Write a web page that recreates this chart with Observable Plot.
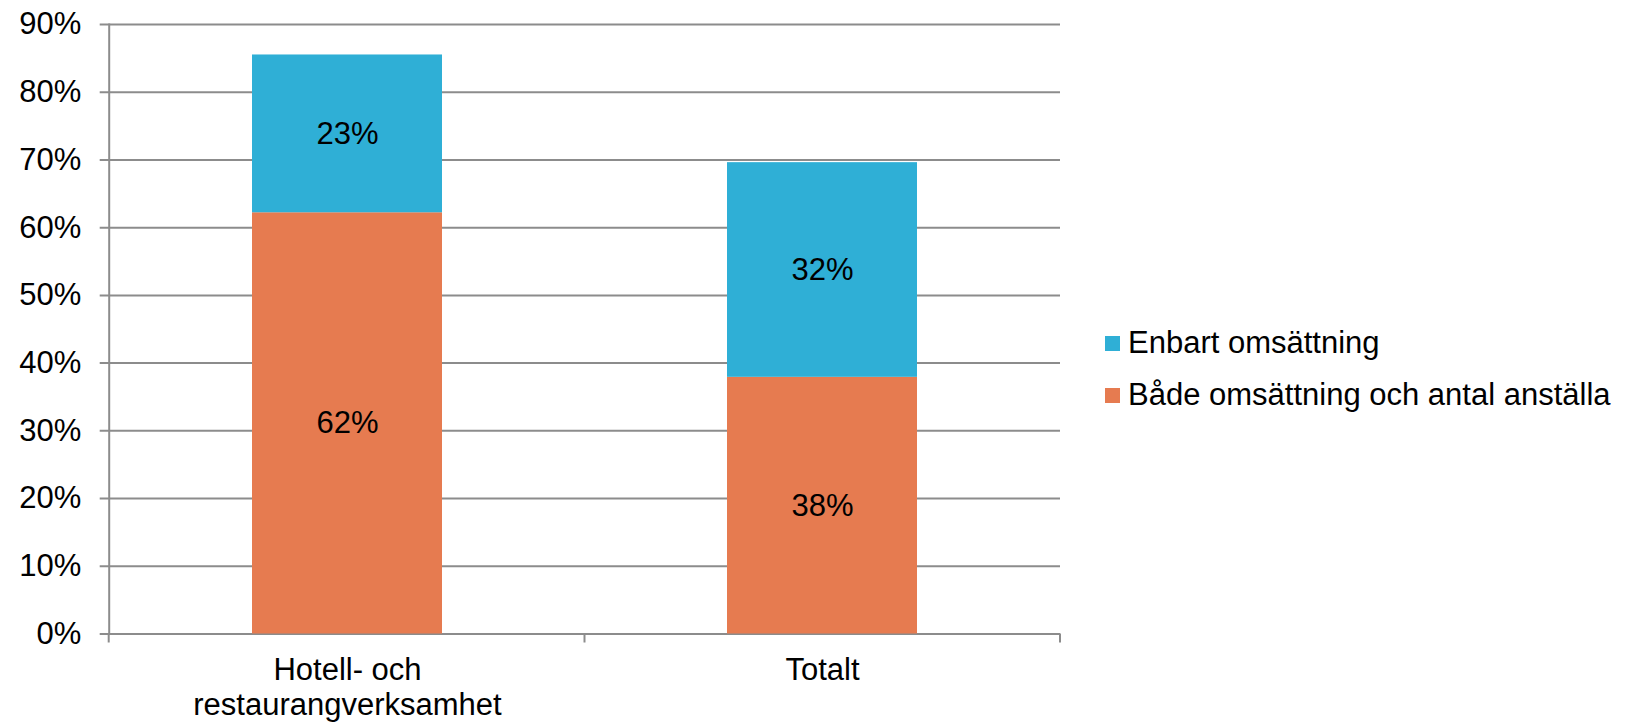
<!DOCTYPE html>
<html>
<head>
<meta charset="utf-8">
<script src="https://cdn.jsdelivr.net/npm/d3@7"></script>
<script src="https://cdn.jsdelivr.net/npm/@observablehq/plot@0.6"></script>
<style>
  html, body { margin: 0; padding: 0; background: #fff; }
  #wrap { position: relative; width: 1641px; height: 727px; font-family: "Liberation Sans", Arial, sans-serif; }
  #legend { position: absolute; left: 1105px; top: 317px; font-size: 31px; color: #000; }
  .item { display: flex; align-items: center; height: 52px; white-space: nowrap; }
  .sw { width: 15px; height: 15px; margin-right: 8px; flex: none; }
</style>
</head>
<body>
<div id="wrap"></div>
<script>
const categories = ["Hotell- och\nrestaurangverksamhet", "Totalt"];
const seriesNames = ["Både omsättning och antal anställa", "Enbart omsättning"];
const bothValues = [62.2, 37.9];
const onlyValues = [23.3, 31.7];
const bothLabels = ["62%", "38%"];
const onlyLabels = ["23%", "32%"];
const yTicks = [0, 10, 20, 30, 40, 50, 60, 70, 80, 90];
const colors = ["#E67B50", "#2FAFD6"];

const data = [];
categories.forEach((c, i) => {
  data.push({category: c, series: seriesNames[0], value: bothValues[i], label: bothLabels[i], mid: bothValues[i] / 2});
});
categories.forEach((c, i) => {
  data.push({category: c, series: seriesNames[1], value: onlyValues[i], label: onlyLabels[i], mid: bothValues[i] + onlyValues[i] / 2});
});

const grey = "#8c8c8c";
const plot = Plot.plot({
  width: 1641,
  height: 727,
  marginLeft: 108.7,
  marginRight: 581,
  marginTop: 24,
  marginBottom: 93.5,
  style: {fontFamily: '"Liberation Sans", Arial, sans-serif', fontSize: "31px", color: "#000", background: "#fff"},
  x: {domain: categories, paddingInner: 0.6, paddingOuter: 0.3, axis: null},
  y: {domain: [0, 90], axis: null},
  color: {domain: seriesNames, range: colors},
  marks: [
    Plot.ruleY(yTicks, {stroke: grey, strokeWidth: 2, insetLeft: -9}),
    Plot.barY(data, {x: "category", y: "value", fill: "series"}),
    Plot.text(data, {x: "category", y: "mid", text: "label", fontSize: 31, fill: "#000"}),
    Plot.axisY(yTicks, {tickSize: 0, tickPadding: 28, tickFormat: d => d + "%", fontSize: 31, label: null, fill: "#000"}),
    Plot.axisX({tickSize: 0, tickPadding: 21, fontSize: 31, lineHeight: 1.14, label: null, fill: "#000"}),
    Plot.frame({anchor: "left", stroke: grey, strokeWidth: 2})
  ]
});

// category boundary ticks below the baseline, derived from the band scale
const xs = plot.scale("x");
const ys = plot.scale("y");
const y0 = ys.apply(0);
const bounds = [xs.range[0]];
for (let i = 0; i < categories.length - 1; i++) {
  bounds.push((xs.apply(categories[i]) + xs.bandwidth + xs.apply(categories[i + 1])) / 2);
}
bounds.push(xs.range[1]);
d3.select(plot).append("g")
  .selectAll("line").data(bounds).join("line")
  .attr("x1", d => d).attr("x2", d => d)
  .attr("y1", y0).attr("y2", y0 + 9)
  .attr("stroke", grey).attr("stroke-width", 2);

const wrap = document.getElementById("wrap");
wrap.appendChild(plot);

const legend = document.createElement("div");
legend.id = "legend";
[1, 0].forEach(i => {
  const item = document.createElement("div");
  item.className = "item";
  const sw = document.createElement("span");
  sw.className = "sw";
  sw.style.background = colors[i];
  const t = document.createElement("span");
  t.textContent = seriesNames[i];
  item.appendChild(sw);
  item.appendChild(t);
  legend.appendChild(item);
});
wrap.appendChild(legend);
</script>
</body>
</html>
